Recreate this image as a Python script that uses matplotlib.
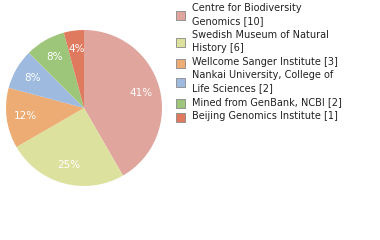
import matplotlib
matplotlib.use('Agg')
import matplotlib.pyplot as plt
from matplotlib.patches import Rectangle

labels = ['Centre for Biodiversity\nGenomics [10]',
          'Swedish Museum of Natural\nHistory [6]',
          'Wellcome Sanger Institute [3]',
          'Nankai University, College of\nLife Sciences [2]',
          'Mined from GenBank, NCBI [2]',
          'Beijing Genomics Institute [1]']
counts = [10, 6, 3, 2, 2, 1]
colors = ['#E0A59D', '#DDE19E', '#EDAC73', '#9EBADF', '#9EC67B', '#E07A5F']

fig = plt.figure(figsize=(3.8, 2.4), dpi=100)
ax = fig.add_axes([6 / 380, 54 / 240, 156 / 380, 156 / 240])
wedges, texts, autotexts = ax.pie(counts, colors=colors, startangle=90, counterclock=False,
                                  autopct=lambda p: '%d%%' % int(p), pctdistance=0.76,
                                  wedgeprops=dict(linewidth=0))
for t in autotexts:
    t.set_color('white')
    t.set_fontsize(7.5)
ax.set_xlim(-1, 1)
ax.set_ylim(-1, 1)
ax.set_aspect('equal')

# legend drawn by hand
y = 9
for lab, col in zip(labels, colors):
    nlines = lab.count('\n') + 1
    sq_y = y + 6.5 * (nlines - 1)
    fig.patches.append(Rectangle((175.5 / 380, 1 - (sq_y + 4.5) / 240), 9 / 380, 9 / 240,
                                 transform=fig.transFigure, facecolor=col,
                                 edgecolor='#888888', linewidth=0.6))
    fig.text(192 / 380, 1 - (y - 6) / 240, lab, fontsize=7, va='top', ha='left',
             linespacing=1.35, color='#222222')
    y += 13.5 * nlines

fig.savefig('out.png', dpi=100)
